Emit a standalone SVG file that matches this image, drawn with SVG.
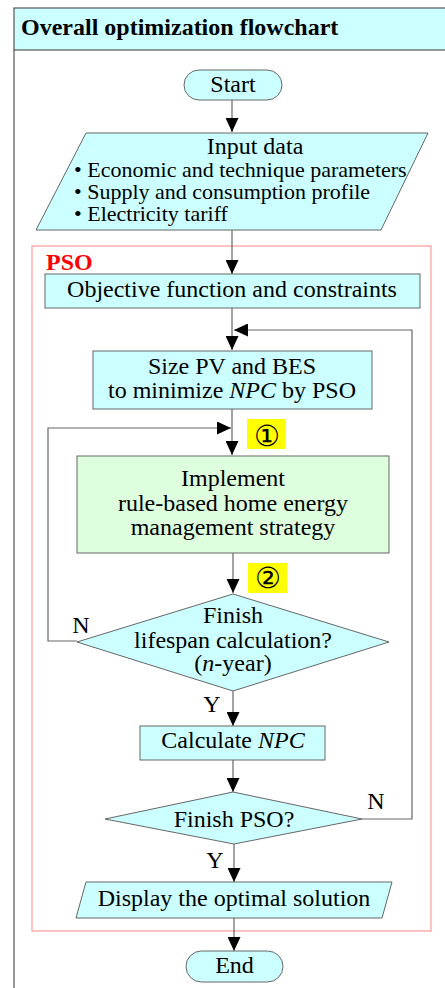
<svg xmlns="http://www.w3.org/2000/svg" width="445" height="988" viewBox="0 0 445 988">
<defs>
<marker id="ah" markerUnits="userSpaceOnUse" markerWidth="14" markerHeight="13" refX="14" refY="6.5" orient="auto">
<path d="M0,0 L14,6.5 L0,13 z" fill="#000"/>
</marker>
<style>
text{font-family:Liberation Serif, serif}
.t{font-size:24px;fill:#000;text-anchor:middle}
.b{font-size:22px;fill:#000}
.c{fill:#CCFFFF;stroke:#666;stroke-width:1}
.g{fill:#DDFFDD;stroke:#666;stroke-width:1}
.e{fill:none;stroke:#666;stroke-width:1.2;marker-end:url(#ah)}
.y{fill:#FFFF00}
.n{font-size:29px;fill:#000;text-anchor:middle}
</style>
</defs>
<rect x="0" y="0" width="445" height="988" fill="#fff"/>
<g id="frame">
<rect x="14" y="8" width="440" height="42" fill="#CCFFFF" stroke="#555" stroke-width="1.2"/>
<line x1="14" y1="50" x2="14" y2="988" stroke="#555" stroke-width="1.2"/>
<text x="21" y="35" font-family="Liberation Serif, serif" font-size="24" font-weight="bold">Overall optimization flowchart</text>
</g>
<g id="pso-frame">
<rect x="32" y="246" width="399" height="685" fill="none" stroke="#FF9999" stroke-width="1.2"/>
<text x="46" y="270" font-family="Liberation Serif, serif" font-size="24" font-weight="bold" fill="#FF0000">PSO</text>
</g>
<g id="connectors">
<path class="e" d="M232,100 V132"/>
<path class="e" d="M232,230 V274"/>
<path class="e" d="M232,308 V350"/>
<path class="e" d="M362,819 H412 V330 H234"/>
<path class="e" d="M232,409 V455"/>
<path class="e" d="M77,641 H48 V428 H231"/>
<path class="e" d="M233,553 V593"/>
<path class="e" d="M233,691 V726"/>
<path class="e" d="M233,760 V792"/>
<path class="e" d="M234,844 V882"/>
<path class="e" d="M234,918 V951"/>
<text class="t" font-family="Liberation Serif, serif" x="81" y="633">N</text>
<text class="t" font-family="Liberation Serif, serif" x="212" y="712">Y</text>
<text class="t" font-family="Liberation Serif, serif" x="376" y="809">N</text>
<text class="t" font-family="Liberation Serif, serif" x="215" y="868">Y</text>
</g>
<g id="start">
<rect class="c" x="184" y="70" width="98" height="30" rx="15" ry="15"/>
<text class="t" font-family="Liberation Serif, serif" x="233" y="92">Start</text>
</g>
<g id="input">
<polygon class="c" points="86,133 428,133 381,230 36,230"/>
<text class="t" font-family="Liberation Serif, serif" x="255" y="154">Input data</text>
<text class="b" font-family="Liberation Serif, serif" x="74" y="177">• Economic and technique parameters</text>
<text class="b" font-family="Liberation Serif, serif" x="74" y="199">• Supply and consumption profile</text>
<text class="b" font-family="Liberation Serif, serif" x="74" y="221">• Electricity tariff</text>
</g>
<g id="objective">
<rect class="c" x="45" y="274" width="375" height="34"/>
<text class="t" font-family="Liberation Serif, serif" x="232" y="297">Objective function and constraints</text>
</g>
<g id="size">
<rect class="c" x="93" y="351" width="279" height="58"/>
<text class="t" font-family="Liberation Serif, serif" x="232" y="374">Size PV and BES</text>
<text class="t" font-family="Liberation Serif, serif" x="232" y="398">to minimize <tspan font-style="italic">NPC</tspan> by PSO</text>
</g>
<g id="label1">
<rect class="y" x="247" y="419" width="39" height="30"/>
<text class="n" font-family="Noto Sans CJK JP, DejaVu Sans, sans-serif" x="266.5" y="446">①</text>
</g>
<g id="implement">
<rect class="g" x="77" y="456" width="312" height="97"/>
<text class="t" font-family="Liberation Serif, serif" x="233" y="486">Implement</text>
<text class="t" font-family="Liberation Serif, serif" x="233" y="510.5">rule-based home energy</text>
<text class="t" font-family="Liberation Serif, serif" x="233" y="535">management strategy</text>
</g>
<g id="label2">
<rect class="y" x="248" y="563" width="39" height="30"/>
<text class="n" font-family="Noto Sans CJK JP, DejaVu Sans, sans-serif" x="267.5" y="588">②</text>
</g>
<g id="lifespan">
<polygon class="c" points="233,594 389,642 233,691 77,642"/>
<text class="t" font-family="Liberation Serif, serif" x="233" y="623">Finish</text>
<text class="t" font-family="Liberation Serif, serif" x="233" y="648">lifespan calculation?</text>
<text class="t" font-family="Liberation Serif, serif" x="233" y="671">(<tspan font-style="italic">n</tspan>-year)</text>
</g>
<g id="calc">
<rect class="c" x="140" y="726" width="185" height="34"/>
<text class="t" font-family="Liberation Serif, serif" x="233" y="748">Calculate <tspan font-style="italic">NPC</tspan></text>
</g>
<g id="finishpso">
<polygon class="c" points="233,792 362,819 234,844 105,819"/>
<text class="t" font-family="Liberation Serif, serif" x="234" y="827">Finish PSO?</text>
</g>
<g id="display">
<polygon class="c" points="86,882 392,882 382,918 76,918"/>
<text class="t" font-family="Liberation Serif, serif" x="234" y="906">Display the optimal solution</text>
</g>
<g id="end">
<rect class="c" x="186" y="951" width="97" height="31" rx="15.5" ry="15.5"/>
<text class="t" font-family="Liberation Serif, serif" x="234.5" y="973">End</text>
</g>
</svg>
